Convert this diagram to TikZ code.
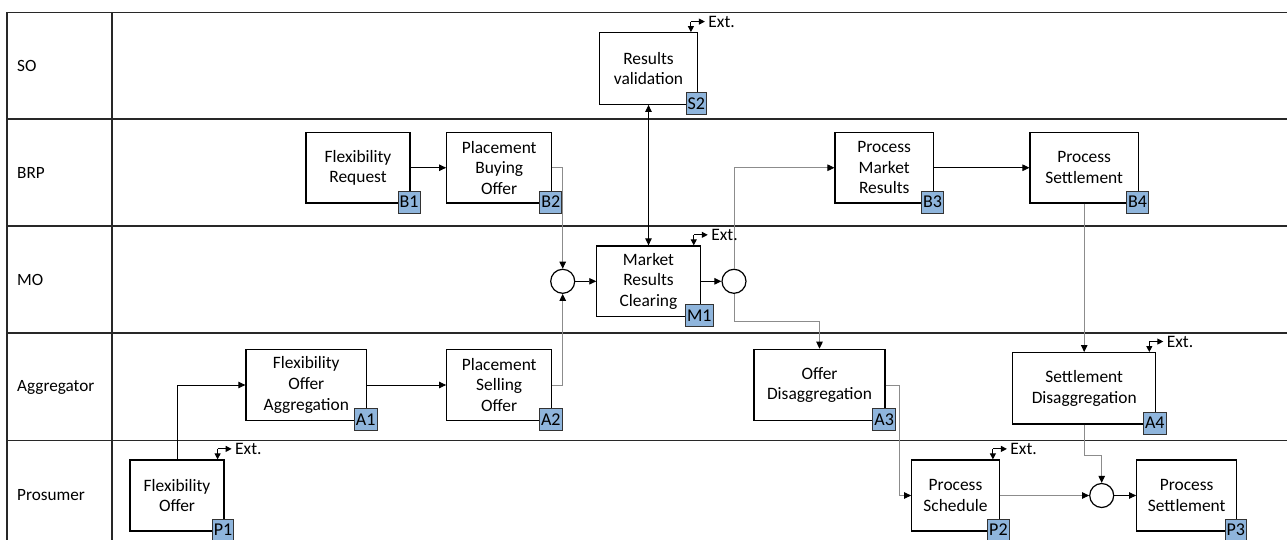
\documentclass[tikz,border=0pt]{standalone}
\usepackage{fontspec}
\setmainfont{Carlito}
\usetikzlibrary{arrows.meta,calc}
\definecolor{tagblue}{RGB}{143,181,220}
\definecolor{lanegray}{RGB}{40,40,40}
\definecolor{flowgray}{RGB}{140,140,140}
\begin{document}
\begin{tikzpicture}[x=1pt,y=-1pt,
  font=\fontsize{17.2}{20.6}\selectfont,
  lane/.style={line width=1.4pt,draw=lanegray},
  box/.style={draw=black,line width=1.2pt,fill=white,align=center,inner sep=0pt,
    font=\fontsize{17.4}{20.6}\selectfont},
  tag/.style={draw=black!80,line width=1pt,fill=tagblue,inner xsep=1.6pt,inner ysep=0pt,
    minimum height=22pt,font=\fontsize{18}{20}\selectfont},
  junction/.style={circle,draw=black,line width=1.2pt,fill=white,minimum size=24pt,inner sep=0pt},
  flow/.style={line width=0.9pt,draw=black,-{Triangle[length=7pt,width=6.5pt]}},
  gflow/.style={line width=0.9pt,draw=flowgray,-{Triangle[length=7pt,width=6.5pt,color=black]}},
  lanelabel/.style={anchor=west,inner sep=0pt}]
\useasboundingbox (0,0) rectangle (1287,540);

% swimlane frame
\draw[lane] (7,12.3) -- (1287,12.3);
\draw[lane] (7,119) -- (1287,119);
\draw[lane] (7,226) -- (1287,226);
\draw[lane] (7,333) -- (1287,333);
\draw[lane] (7,440.7) -- (1287,440.7);
\draw[lane] (7,12.3) -- (7,540);
\draw[lane] (112,12.3) -- (112,540);

% lane names
\node[lanelabel] (lSO) at (17,66) {SO};
\node[lanelabel] (lBRP) at (17,172.5) {BRP};
\node[lanelabel] (lMO) at (17,279.5) {MO};
\node[lanelabel] (lAG) at (17,387) {Aggregator};
\node[lanelabel] (lPR) at (17,495) {Prosumer};

% process steps
\node[box,minimum width=97.6pt,minimum height=71.6pt] (S2) at (648.5,68.5) {Results\\validation};
\node[box,minimum width=104pt,minimum height=70.5pt] (B1) at (358,167.75) {Flexibility\\Request};
\node[box,minimum width=105pt,minimum height=70.5pt] (B2) at (499.2,167.75) {Placement\\Buying\\Offer};
\node[box,minimum width=98.3pt,minimum height=70.5pt] (B3) at (884.2,167.75) {Process\\Market\\Results};
\node[box,minimum width=108.3pt,minimum height=70.5pt] (B4) at (1084.2,167.75) {Process\\Settlement};
\node[box,minimum width=103.3pt,minimum height=70.7pt] (M1) at (648.5,281.3) {Market\\Results\\Clearing};
\node[box,minimum width=120.7pt,minimum height=71.4pt] (A1) at (306.3,385) {Flexibility\\Offer\\Aggregation};
\node[box,minimum width=105pt,minimum height=71.4pt] (A2) at (499.2,385) {Placement\\Selling\\Offer};
\node[box,minimum width=131pt,minimum height=71.4pt] (A3) at (819.5,385) {Offer\\Disaggregation};
\node[box,minimum width=143pt,minimum height=71.3pt] (A4) at (1084.2,388.3) {Settlement\\Disaggregation};
\node[box,minimum width=94pt,minimum height=71pt] (P1) at (177,495.5) {Flexibility\\Offer};
\node[box,minimum width=87.6pt,minimum height=71pt] (P2) at (955.5,495.5) {Process\\Schedule};
\node[box,minimum width=100pt,minimum height=71pt] (P3) at (1186.7,495.5) {Process\\Settlement};

% junctions
\node[junction] (c1) at (562.7,281.3) {};
\node[junction] (c2) at (734,281.3) {};
\node[junction] (c3) at (1101.7,495.5) {};

% connectors
\draw[flow] (B1.east) -- (B1.east -| B2.west);
\draw[gflow] (B2.east) -| (c1.north);
\draw[gflow] (A2.east) -| (c1.south);
\draw[flow] (c1.east) -- (M1.west);
\draw[flow,{Triangle[length=7pt,width=6.5pt]}-{Triangle[length=7pt,width=6.5pt]}] (S2.south) -- (M1.north);
\draw[flow] (M1.east) -- (c2.west);
\draw[gflow] (c2.north) |- (B3.west);
\coordinate (k1) at (0,321.7);
\draw[gflow] (c2.south) |- (k1 -| A3.north) -- (A3.north);
\draw[flow] (B3.east) -- (B3.east -| B4.west);
\draw[gflow] (B4.south) -- (A4.north);
\coordinate (k3) at (0,455);
\draw[gflow] (A4.south) |- (k3 -| c3.north) -- (c3.north);
\draw[flow] (P1.north) |- (A1.west);
\draw[flow] (A1.east) -- (A1.east -| A2.west);
\coordinate (k2) at (899.3,0);
\draw[gflow] (A3.east) -| (k2 |- P2.west) -- (P2.west);
\draw[gflow] (P2.east) -- (c3.west);
\draw[flow] (c3.east) -- (P3.west);

% external interface markers
\foreach \b in {S2,M1,A4,P1,P2}{
  \coordinate (\b x) at ($(\b.north east)+(-7,-10.5)$);
  \draw[flow,line width=1pt,-{Triangle[length=6pt,width=6pt]}] (\b x) -- (\b x |- \b.north);
  \draw[flow,line width=1pt,-{Triangle[length=6pt,width=6pt]}] (\b x) -- ++(14,0)
    node[right,inner sep=0pt,xshift=3pt,font=\fontsize{17.5}{20}\selectfont] {Ext.};
}

% step tags
\foreach \b in {S2,B1,B2,B3,B4,M1,A1,A2,A3,A4,P1,P2,P3}{
  \node[tag] (\b t) at ($(\b.south east)+(-1.5,-1.5)$) {\b};
}
\end{tikzpicture}
\end{document}
